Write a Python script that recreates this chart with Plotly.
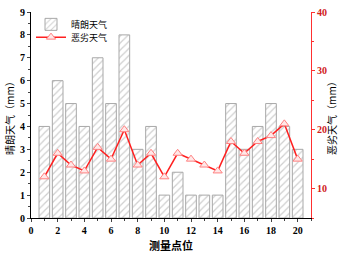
import plotly.graph_objects as go

points = list(range(1, 21))
clear_weather = [4, 6, 5, 4, 7, 5, 8, 3, 4, 1, 2, 1, 1, 1, 5, 3, 4, 5, 4, 3]
bad_weather = [12, 16, 14, 13, 17, 15, 20, 14, 16, 12, 16, 15, 14, 13, 18, 16, 18, 19, 21, 15]

num_font = dict(family="Liberation Serif", size=10, color="black", weight="bold")
cjk = "Noto Sans CJK SC"

fig = go.Figure()
fig.add_trace(go.Bar(
    x=points, y=clear_weather, name="晴朗天气", width=0.8, legend="legend",
    marker=dict(color="white", line=dict(color="#a8a8a8", width=1),
                pattern=dict(shape="/", fgcolor="#a0a0a0", bgcolor="white", size=5, solidity=0.25)),
    yaxis="y",
))
fig.add_trace(go.Scatter(
    x=points, y=bad_weather, name="恶劣天气", mode="lines+markers", legend="legend2",
    line=dict(color="#ff2020", width=1.5),
    marker=dict(symbol="triangle-up", size=8, color="#ffe8e8", line=dict(color="#ff8080", width=1)),
    yaxis="y2",
))

legend_common = dict(xanchor="left", yanchor="middle",
                     font=dict(family=cjk, size=9, color="black"),
                     bgcolor="rgba(0,0,0,0)", itemwidth=30)

fig.update_layout(
    width=346, height=254,
    margin=dict(l=31, r=35, t=6, b=36),
    plot_bgcolor="white", paper_bgcolor="white",
    showlegend=True,
    legend=dict(x=0.0, y=0.94, **legend_common),
    legend2=dict(x=0.0, y=0.878, **legend_common),
    xaxis=dict(range=[0, 21], dtick=2, tick0=0, ticks="outside", ticklen=3,
               showline=True, linecolor="black", linewidth=1.2, showgrid=False, zeroline=False,
               tickfont=num_font,
               minor=dict(dtick=1, ticks="outside", ticklen=2)),
    xaxis2=dict(range=[0, 21], overlaying="x", side="top", dtick=2, tick0=0, ticks="inside", ticklen=3,
                showline=True, linecolor="black", linewidth=1.2, showgrid=False, zeroline=False,
                showticklabels=False, minor=dict(dtick=1, ticks="inside", ticklen=2)),
    yaxis=dict(range=[0, 9], dtick=1, ticks="outside", ticklen=3,
               showline=True, linecolor="black", linewidth=1.2, showgrid=False, zeroline=False,
               tickfont=num_font,
               minor=dict(dtick=0.5, ticks="outside", ticklen=2)),
    yaxis2=dict(range=[5, 40], overlaying="y", side="right", tick0=0, dtick=10, ticks="outside", ticklen=3,
                showline=True, linecolor="#ff3030", linewidth=1.2, showgrid=False, zeroline=False,
                tickfont=dict(family="Liberation Serif", size=10, color="#d02020", weight="bold"),
                minor=dict(dtick=5, ticks="outside", ticklen=2, tickcolor="#ff3030"),
                tickcolor="#ff3030"),
    annotations=[
        dict(text="测量点位", xref="paper", yref="paper", x=0.5, y=-0.132, xanchor="center", yanchor="middle",
             showarrow=False, font=dict(family=cjk, size=11, color="black", weight="bold")),
        dict(text="晴朗天气（mm）", xref="paper", yref="paper", x=-0.079, y=0.5, xanchor="center", yanchor="middle",
             textangle=-90, showarrow=False, font=dict(family=cjk, size=10, color="black")),
        dict(text="恶劣天气（mm）", xref="paper", yref="paper", x=1.071, y=0.5, xanchor="center", yanchor="middle",
             textangle=-90, showarrow=False, font=dict(family=cjk, size=10, color="black")),
    ],
    bargap=0.2,
)

fig.write_html("out.html", config={"displayModeBar": False},
               post_script="document.body.style.margin='0';document.body.style.overflow='hidden';")
